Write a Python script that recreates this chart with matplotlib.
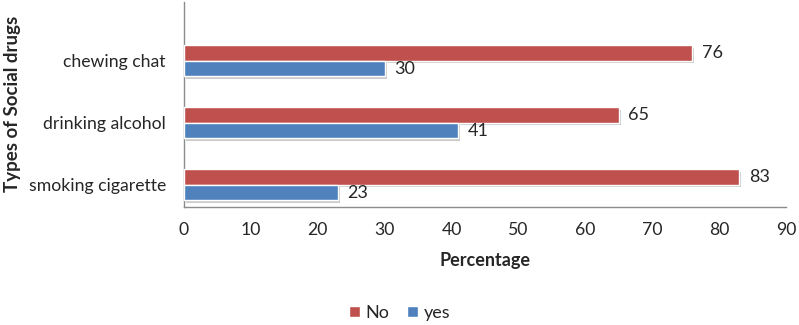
import matplotlib

matplotlib.use("Agg")
import matplotlib.patheffects as pe
import matplotlib.pyplot as plt
import numpy as np
from matplotlib.patches import Patch

categories = ["smoking cigarette", "drinking alcohol", "chewing chat"]
no_values = [83, 65, 76]
yes_values = [23, 41, 30]
xticks = [0, 10, 20, 30, 40, 50, 60, 70, 80, 90]

RED = "#C0504D"
BLUE = "#4F81BD"
TEXT = "#262626"

plt.rcParams["font.family"] = ["Lato", "DejaVu Sans"]

fig = plt.figure(figsize=(7.99, 3.25), dpi=100)
ax = fig.add_axes([0.2303, 0.3631, 0.7534, 0.6307])

y = np.arange(len(categories))
h = 0.25
shadow = [pe.SimplePatchShadow(offset=(1.5, -1.5), shadow_rgbFace="#999999", alpha=0.5), pe.Normal()]

bars_no = ax.barh(y + h / 2, no_values, height=h, color=RED, edgecolor="white",
                  linewidth=1.0, path_effects=shadow, zorder=3)
bars_yes = ax.barh(y - h / 2, yes_values, height=h, color=BLUE, edgecolor="white",
                   linewidth=1.0, path_effects=shadow, zorder=3)

for bars in (bars_no, bars_yes):
    ax.bar_label(bars, padding=7, fontsize=13, color=TEXT)

ax.set_xlim(0, 90)
ax.set_ylim(-0.355, 2.95)
ax.set_xticks(xticks)
ax.set_yticks(y)
ax.set_yticklabels(categories)
ax.tick_params(axis="both", length=0, labelsize=12.7, colors=TEXT)
ax.tick_params(axis="x", pad=11)
ax.tick_params(axis="y", pad=13)

for side in ("top", "right"):
    ax.spines[side].set_visible(False)
for side in ("left", "bottom"):
    ax.spines[side].set_color("#8C8C8C")
    ax.spines[side].set_linewidth(1.0)

ax.set_xlabel("Percentage", fontsize=13, fontweight="bold", color=TEXT, labelpad=10)
fig.text(0.016, 0.68, "Types of Social drugs", rotation=90, fontsize=13.5,
         fontweight="bold", color=TEXT, ha="center", va="center")

handles = [Patch(facecolor=RED, edgecolor="white"), Patch(facecolor=BLUE, edgecolor="white")]
fig.legend(handles, ["No", "yes"], loc="center", bbox_to_anchor=(0.5, 0.037), ncol=2,
           frameon=False, fontsize=13, handlelength=0.6, handleheight=0.6,
           handletextpad=0.3, columnspacing=1.0, labelcolor=TEXT)

fig.savefig("out.png", dpi=100)
